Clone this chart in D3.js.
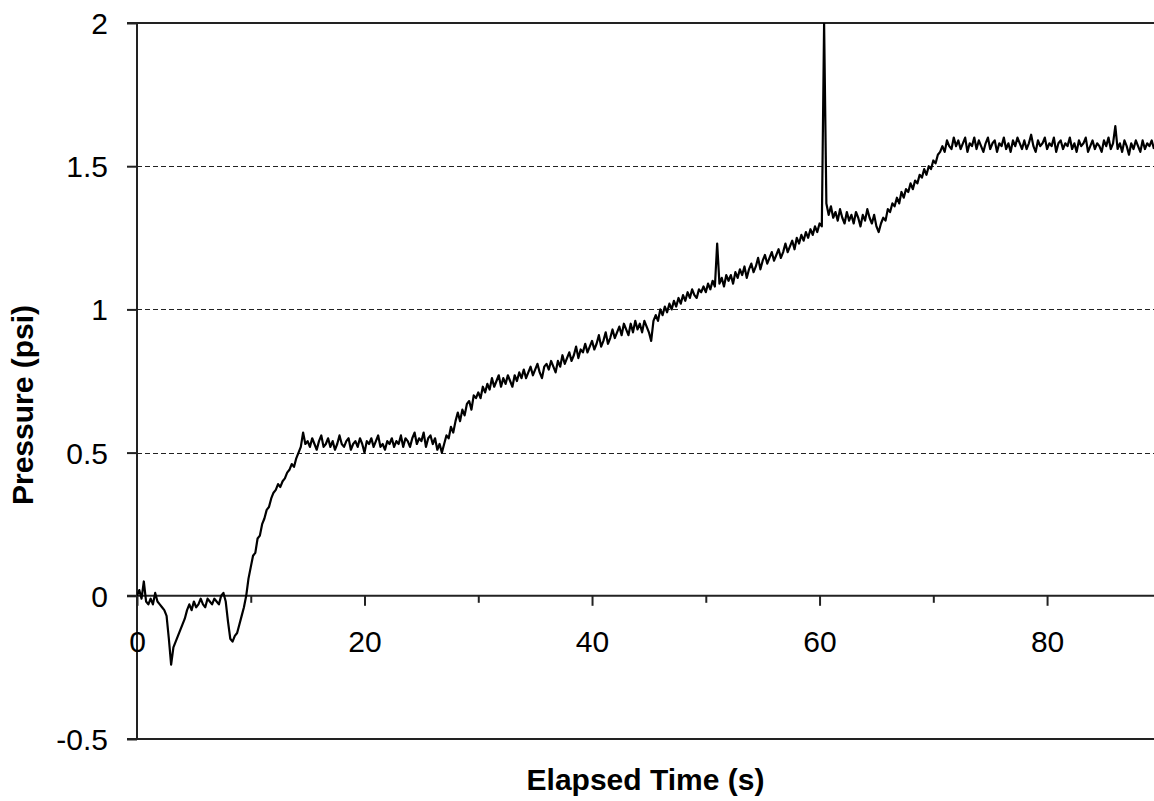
<!DOCTYPE html>
<html>
<head>
<meta charset="utf-8">
<script src="https://cdn.jsdelivr.net/npm/d3@7"></script>
<style>
  html, body { margin: 0; padding: 0; background: #fff; }
  svg { display: block; }
</style>
</head>
<body>
<svg id="chart" width="1154" height="801"></svg>
<script>
// ---- data ----
const sampleInterval = 0.2; // seconds between samples
const pressure = [
  0.00, 0.02,-0.01, 0.05,-0.02,-0.03,-0.01,-0.03, 0.01,-0.02,
 -0.03,-0.04,-0.05,-0.07,-0.15,-0.24,-0.18,-0.16,-0.14,-0.12,
 -0.10,-0.08,-0.05,-0.03,-0.05,-0.02,-0.04,-0.03,-0.01,-0.03,
 -0.04,-0.01,-0.02,-0.03,-0.01,-0.02,-0.03, 0.00, 0.01,-0.02,
 -0.09,-0.15,-0.16,-0.14,-0.13,-0.10,-0.07,-0.04, 0.00, 0.06,
  0.10, 0.14, 0.15, 0.20, 0.21, 0.25, 0.27, 0.30, 0.31, 0.34,
  0.36, 0.37, 0.39, 0.38, 0.40, 0.41, 0.43, 0.44, 0.46, 0.45,
  0.48, 0.50, 0.52, 0.57, 0.53, 0.54, 0.52, 0.55, 0.53, 0.51,
  0.54, 0.56, 0.52, 0.53, 0.55, 0.52, 0.54, 0.51, 0.53, 0.56,
  0.53, 0.52, 0.54, 0.55, 0.51, 0.53, 0.54, 0.52, 0.55, 0.53,
  0.50, 0.54, 0.53, 0.55, 0.52, 0.54, 0.56, 0.52, 0.53, 0.51,
  0.54, 0.53, 0.55, 0.52, 0.54, 0.53, 0.56, 0.52, 0.55, 0.54,
  0.52, 0.55, 0.57, 0.53, 0.55, 0.54, 0.57, 0.52, 0.55, 0.56,
  0.53, 0.55, 0.51, 0.53, 0.50, 0.53, 0.56, 0.55, 0.59, 0.57,
  0.61, 0.64, 0.61, 0.65, 0.63, 0.67, 0.68, 0.65, 0.70, 0.69,
  0.71, 0.69, 0.73, 0.71, 0.74, 0.72, 0.76, 0.73, 0.75, 0.77,
  0.73, 0.76, 0.74, 0.77, 0.75, 0.73, 0.77, 0.75, 0.78, 0.76,
  0.79, 0.76, 0.78, 0.80, 0.77, 0.79, 0.81, 0.78, 0.76, 0.80,
  0.81, 0.79, 0.82, 0.80, 0.78, 0.82, 0.80, 0.84, 0.81, 0.83,
  0.85, 0.82, 0.84, 0.87, 0.83, 0.86, 0.85, 0.88, 0.85, 0.87,
  0.89, 0.86, 0.88, 0.91, 0.87, 0.89, 0.92, 0.88, 0.90, 0.93,
  0.90, 0.92, 0.94, 0.91, 0.95, 0.93, 0.91, 0.95, 0.92, 0.96,
  0.93, 0.95, 0.92, 0.96, 0.94, 0.92, 0.89, 0.96, 0.98, 0.96,
  1.00, 0.98, 1.01, 0.99, 1.02, 1.00, 1.03, 1.01, 1.04, 1.02,
  1.05, 1.03, 1.06, 1.04, 1.07, 1.05, 1.04, 1.07, 1.06, 1.08,
  1.06, 1.09, 1.07, 1.10, 1.08, 1.23, 1.09, 1.11, 1.08, 1.12,
  1.10, 1.12, 1.09, 1.13, 1.11, 1.14, 1.12, 1.15, 1.11, 1.14,
  1.16, 1.13, 1.15, 1.18, 1.14, 1.17, 1.19, 1.16, 1.18, 1.20,
  1.17, 1.19, 1.21, 1.18, 1.20, 1.23, 1.20, 1.22, 1.24, 1.21,
  1.25, 1.23, 1.26, 1.24, 1.27, 1.25, 1.28, 1.26, 1.29, 1.27,
  1.30, 1.29, 2.00, 1.37, 1.33, 1.36, 1.32, 1.34, 1.31, 1.35,
  1.32, 1.30, 1.34, 1.31, 1.33, 1.30, 1.34, 1.32, 1.29, 1.33,
  1.31, 1.35, 1.32, 1.30, 1.33, 1.29, 1.27, 1.30, 1.32, 1.31,
  1.35, 1.34, 1.37, 1.36, 1.39, 1.37, 1.41, 1.39, 1.42, 1.41,
  1.44, 1.42, 1.45, 1.44, 1.47, 1.46, 1.49, 1.47, 1.50, 1.49,
  1.52, 1.51, 1.54, 1.55, 1.57, 1.55, 1.59, 1.57, 1.56, 1.60,
  1.57, 1.59, 1.56, 1.58, 1.60, 1.55, 1.58, 1.57, 1.60, 1.56,
  1.59, 1.57, 1.55, 1.58, 1.60, 1.56, 1.58, 1.59, 1.55, 1.58,
  1.57, 1.60, 1.56, 1.58, 1.55, 1.59, 1.57, 1.60, 1.58, 1.56,
  1.59, 1.56, 1.58, 1.61, 1.57, 1.55, 1.59, 1.57, 1.58, 1.60,
  1.56, 1.58, 1.57, 1.60, 1.55, 1.58, 1.59, 1.56, 1.58, 1.57,
  1.60, 1.56, 1.58, 1.55, 1.59, 1.57, 1.58, 1.60, 1.55, 1.57,
  1.59, 1.56, 1.58, 1.57, 1.55, 1.59, 1.57, 1.60, 1.56, 1.58,
  1.64, 1.56, 1.58, 1.55, 1.59, 1.57, 1.54, 1.58, 1.56, 1.59,
  1.57, 1.55, 1.59, 1.56, 1.58, 1.57, 1.59, 1.56
];
const xDomain = [0, 89.4];
const yDomain = [-0.5, 2];
const xMajorTicks = [0, 20, 40, 60, 80];
const xMinorTicks = [10, 30, 50, 70];
const yTicks = [-0.5, 0, 0.5, 1, 1.5, 2];
const yGridTicks = [0.5, 1, 1.5];
const xTitle = "Elapsed Time (s)";
const yTitle = "Pressure (psi)";

// ---- layout ----
const L = 137, R = 1154, T = 23, B = 739;
const svg = d3.select("#chart");
const x = d3.scaleLinear().domain(xDomain).range([L, R]);
const y = d3.scaleLinear().domain(yDomain).range([B, T]);
const ink = "#222";
const font = "'Liberation Sans', Arial, Helvetica, sans-serif";

svg.append("rect").attr("width", 1154).attr("height", 801).attr("fill", "#fff");

// gridlines
svg.append("g").selectAll("line").data(yGridTicks).join("line")
  .attr("x1", L).attr("x2", R)
  .attr("y1", d => Math.round(y(d)) + 0.5).attr("y2", d => Math.round(y(d)) + 0.5)
  .attr("stroke", ink).attr("stroke-width", 1.2).attr("stroke-dasharray", "5,3");

// top and bottom frame lines
[yDomain[1], yDomain[0]].forEach(v => {
  svg.append("line").attr("x1", L - 10).attr("x2", R)
    .attr("y1", y(v)).attr("y2", y(v))
    .attr("stroke", ink).attr("stroke-width", 2);
});

// y axis
const yAxis = d3.axisLeft(y).tickValues(yTicks).tickSize(10).tickPadding(19)
  .tickFormat(d => String(d));
const gy = svg.append("g").attr("transform", `translate(${L},0)`).call(yAxis);
gy.select(".domain").remove();
gy.selectAll(".tick line").attr("stroke", ink).attr("stroke-width", 2);
gy.selectAll(".tick text").attr("font-family", font).attr("font-size", 30)
  .attr("fill", "#000").attr("dy", "0.35em");
svg.append("line").attr("x1", L).attr("x2", L).attr("y1", T - 1).attr("y2", B + 1)
  .attr("stroke", ink).attr("stroke-width", 2);

// x axis at y = 0
const y0 = y(0);
svg.append("line").attr("x1", L - 10).attr("x2", R).attr("y1", y0).attr("y2", y0)
  .attr("stroke", ink).attr("stroke-width", 2);
const xAxis = d3.axisBottom(x).tickValues(xMajorTicks).tickSize(10).tickPadding(0)
  .tickFormat(d => String(d));
const gx = svg.append("g").attr("transform", `translate(0,${y0})`).call(xAxis);
gx.select(".domain").remove();
gx.selectAll(".tick line").attr("stroke", ink).attr("stroke-width", 2);
gx.selectAll(".tick text").attr("font-family", font).attr("font-size", 30)
  .attr("fill", "#000").attr("y", 56).attr("dy", 0);
const xMinor = d3.axisBottom(x).tickValues(xMinorTicks).tickSize(7).tickFormat("");
const gxm = svg.append("g").attr("transform", `translate(0,${y0})`).call(xMinor);
gxm.select(".domain").remove();
gxm.selectAll(".tick line").attr("stroke", ink).attr("stroke-width", 2);

// data line
svg.append("clipPath").attr("id", "plotclip").append("rect")
  .attr("x", L).attr("y", T).attr("width", R - L).attr("height", B - T);
const line = d3.line()
  .x((d, i) => x(i * sampleInterval))
  .y(d => y(d));
svg.append("path").datum(pressure)
  .attr("clip-path", "url(#plotclip)")
  .attr("d", line)
  .attr("fill", "none").attr("stroke", "#000").attr("stroke-width", 2.2)
  .attr("stroke-linejoin", "round");

// titles
svg.append("text").attr("x", (L + R) / 2).attr("y", 790)
  .attr("text-anchor", "middle").attr("font-family", font)
  .attr("font-size", 30).attr("font-weight", "bold").attr("fill", "#000")
  .text(xTitle);
svg.append("text").attr("transform", `translate(33,${(T + B) / 2 + 24}) rotate(-90)`)
  .attr("text-anchor", "middle").attr("font-family", font)
  .attr("font-size", 30).attr("font-weight", "bold").attr("fill", "#000")
  .text(yTitle);
</script>
</body>
</html>
